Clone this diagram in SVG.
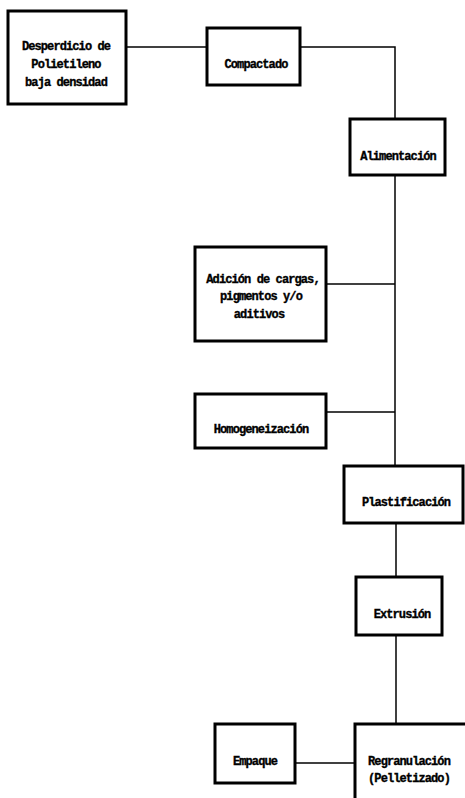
<svg xmlns="http://www.w3.org/2000/svg" width="465" height="798" viewBox="0 0 465 798">
<style>
.box{fill:#fff;stroke:#000;stroke-width:3}
.con{fill:none;stroke:#000;stroke-width:1.5}
text{font-family:"Liberation Mono","DejaVu Sans Mono",monospace;font-weight:bold;font-size:12px;letter-spacing:-0.9px;text-anchor:middle;fill:#000;stroke:#000;stroke-width:0.35}
</style>
<rect width="465" height="798" fill="#fff"/>
<g id="connectors">
<line class="con" x1="126" y1="47" x2="207" y2="47"/>
<polyline class="con" points="300,47 395,47 395,118"/>
<line class="con" x1="395" y1="175" x2="395" y2="465"/>
<line class="con" x1="326" y1="284" x2="395" y2="284"/>
<line class="con" x1="326" y1="412" x2="395" y2="412"/>
<line class="con" x1="396" y1="523" x2="396" y2="576"/>
<line class="con" x1="396" y1="635" x2="396" y2="724"/>
<line class="con" x1="295" y1="763" x2="355" y2="763"/>
</g>
<g id="desperdicio">
<rect class="box" x="8" y="11" width="118" height="93"/>
<text x="66" y="50">Desperdicio de</text>
<text x="66" y="68">Polietileno</text>
<text x="66" y="86">baja densidad</text>
</g>
<g id="compactado">
<rect class="box" x="207" y="28" width="93" height="57"/>
<text x="256" y="68">Compactado</text>
</g>
<g id="alimentacion">
<rect class="box" x="350" y="119" width="95" height="56"/>
<text x="398" y="160">Alimentación</text>
</g>
<g id="adicion">
<rect class="box" x="195" y="247" width="131" height="94"/>
<text x="263" y="283">Adición de cargas,</text>
<text x="261" y="300">pigmentos y/o</text>
<text x="259" y="318">aditivos</text>
</g>
<g id="homogeneizacion">
<rect class="box" x="195" y="394" width="131" height="54"/>
<text x="261" y="433">Homogeneización</text>
</g>
<g id="plastificacion">
<rect class="box" x="344" y="466" width="119" height="57"/>
<text x="406" y="506">Plastificación</text>
</g>
<g id="extrusion">
<rect class="box" x="356" y="577" width="86" height="58"/>
<text x="402" y="618">Extrusión</text>
</g>
<g id="empaque">
<rect class="box" x="215" y="724" width="80" height="59"/>
<text x="255" y="765">Empaque</text>
</g>
<g id="regranulacion">
<rect class="box" x="355" y="724" width="115" height="80"/>
<text x="409" y="765">Regranulación</text>
<text x="409" y="782">(Pelletizado)</text>
</g>
</svg>
